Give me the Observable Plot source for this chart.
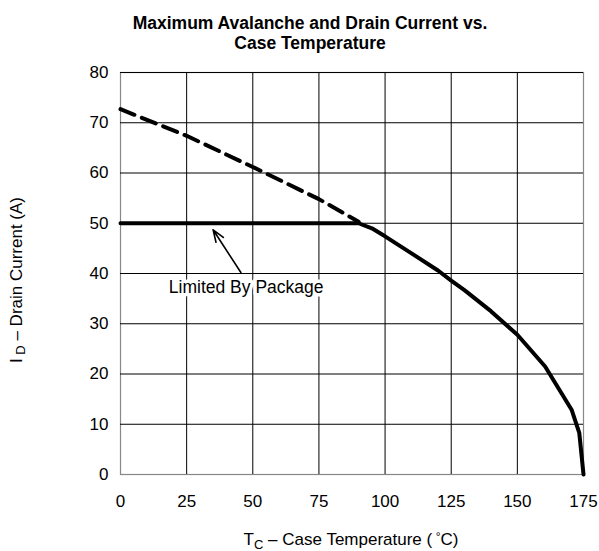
<!DOCTYPE html>
<html><head><meta charset="utf-8">
<script src="https://cdn.jsdelivr.net/npm/d3@7"></script>
<script src="https://cdn.jsdelivr.net/npm/@observablehq/plot@0.6"></script>
<style>body{margin:0;background:#fff;font-family:"Liberation Sans",Arial,sans-serif}</style>
</head><body><div id="chart"></div>
<script>
const titleLines = ["Maximum Avalanche and Drain Current vs.", "Case Temperature"];
const xTicks = [0, 25, 50, 75, 100, 125, 150, 175];
const yTicks = [0, 10, 20, 30, 40, 50, 60, 70, 80];
// Limited by package (solid) then thermal derating
const solidT = [0, 90, 95, 100, 110, 120, 125, 130, 140, 150, 160.5, 170.5, 173.4, 175];
const solidI = [50, 50, 49, 47.4, 44, 40.6, 38.6, 36.7, 32.5, 27.8, 21.5, 12.9, 8.3, 0];
// Silicon limit (dashed)
const dashT = [0, 25, 50, 75, 90];
const dashI = [72.7, 67.4, 61.2, 54.8, 50.3];
const annText = "Limited By Package";
const annAt = {T: 47.5, I: 37.2};
const arrowFrom = {T: 45.5, I: 40.2};
const arrowTo = {T: 35, I: 48.7};

const solid = solidT.map((t, i) => ({t, i: solidI[i]}));
const dashed = dashT.map((t, i) => ({t, i: dashI[i]}));

const W = 599, H = 551;
const ff = "'Liberation Sans', Arial, sans-serif";
const plot = Plot.plot({
  width: W, height: H,
  marginLeft: 120, marginRight: 16, marginTop: 72, marginBottom: 77,
  style: {fontFamily: ff, fontSize: "17px", color: "#000", background: "#fff"},
  x: {domain: [0, 175], ticks: xTicks, label: null, tickSize: 0, tickPadding: 20},
  y: {domain: [0, 80], ticks: yTicks, label: null, tickSize: 0, tickPadding: 12},
  marks: [
    Plot.frame({stroke: "#888", strokeWidth: 1.2}),
    Plot.ruleX(xTicks.slice(1, -1), {stroke: "#000", strokeWidth: 1, strokeOpacity: 1}),
    Plot.ruleY(yTicks.slice(1), {stroke: "#000", strokeWidth: 1, strokeOpacity: 1}),
    Plot.text([annText], {x: annAt.T, y: annAt.I, text: d => d, fontSize: 17.5, fill: "#000", stroke: "#fff", strokeWidth: 7}),
    Plot.arrow([0], {x1: arrowFrom.T, y1: arrowFrom.I, x2: arrowTo.T, y2: arrowTo.I, stroke: "#000", strokeWidth: 1.6, headLength: 12, headAngle: 40}),
    Plot.line(dashed, {x: "t", y: "i", stroke: "#000", strokeWidth: 4, strokeDasharray: "15,8"}),
    Plot.line(solid, {x: "t", y: "i", stroke: "#000", strokeWidth: 4, strokeLinejoin: "round"})
  ]
});
const svg = d3.select(plot);
// title
titleLines.forEach((t, k) => {
  svg.append("text").attr("x", 310).attr("y", 28.5 + k * 20.5).attr("text-anchor", "middle")
    .attr("font-family", ff).attr("font-size", 17.5).attr("font-weight", "bold").attr("fill", "#000").text(t);
});
// x label
const xl = svg.append("text").attr("x", 351).attr("y", 545).attr("text-anchor", "middle")
  .attr("font-family", ff).attr("font-size", 17).attr("fill", "#000");
xl.append("tspan").text("T");
xl.append("tspan").attr("font-size", 13).attr("dy", 4).text("C");
xl.append("tspan").attr("dy", -4).text(" – Case Temperature (\u2009");
xl.append("tspan").attr("font-size", 12).attr("dy", -4).text("°");
xl.append("tspan").attr("dy", 4).text("C)");
// y label
const yl = svg.append("text").attr("transform", "translate(22,280) rotate(-90)").attr("text-anchor", "middle")
  .attr("font-family", ff).attr("font-size", 17).attr("fill", "#000");
yl.append("tspan").text("I");
yl.append("tspan").attr("font-size", 13).attr("dy", 3).text(" D");
yl.append("tspan").attr("dy", -3).text(" – Drain Current (A)");
document.getElementById("chart").append(plot);
</script></body></html>
